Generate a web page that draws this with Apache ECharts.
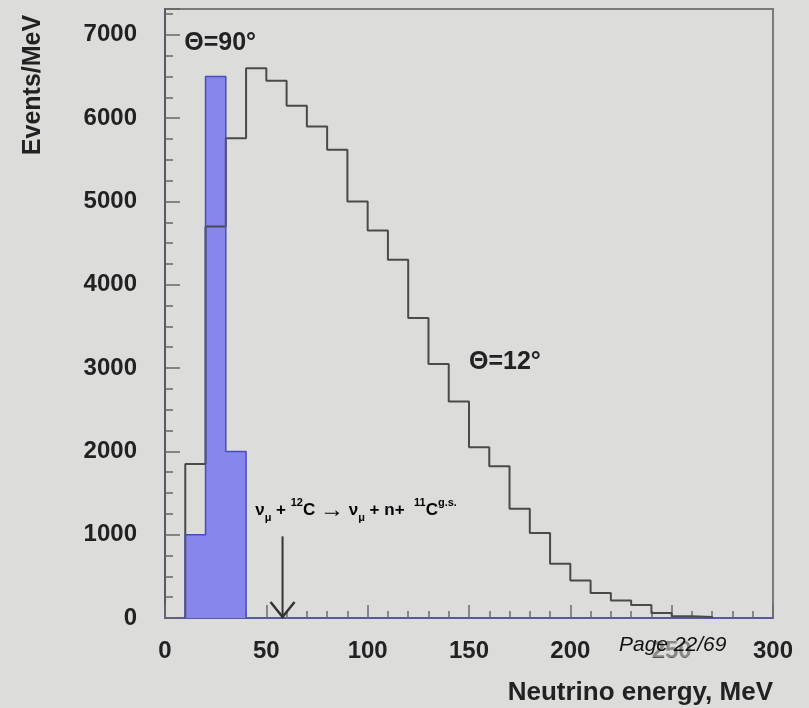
<!DOCTYPE html>
<html>
<head>
<meta charset="utf-8">
<script src="https://cdn.jsdelivr.net/npm/echarts@6/dist/echarts.min.js"></script>
<style>
  html, body { margin: 0; padding: 0; background: #dcdddb; }
  #chart { width: 809px; height: 708px; }
</style>
</head>
<body>
<div id="chart"></div>
<script>
// Neutrino energy spectra, 10 MeV bins (events per MeV)
const edges12 = [10, 20, 30, 40, 50, 60, 70, 80, 90, 100, 110, 120, 130, 140, 150,
                 160, 170, 180, 190, 200, 210, 220, 230, 240, 250, 260, 270];
const counts12 = [1850, 4700, 5760, 6600, 6450, 6150, 5900, 5620, 5000, 4650, 4300, 3600, 3050,
                  2600, 2050, 1820, 1310, 1020, 650, 450, 300, 210, 155, 60, 20, 12];
const edges90 = [10, 20, 30, 40];
const counts90 = [1000, 6500, 2000];

// Axis ranges and ticks
const xRange = [0, 300];
const xMajor = 50;
const yRange = [0, 7310];
const yMajor = 1000;
const yMinor = 250;

// Reaction threshold marker (energy in MeV, arrow top in events/MeV)
const markerEnergy = 58;
const markerTop = 980;

const FONT = 'Liberation Sans, Arial, Helvetica, sans-serif';

// Build a closed step outline: rises from zero at the first edge, drops to zero at the last
function stepPoints(edges, vals) {
  const pts = [[edges[0], 0]];
  vals.forEach((v, i) => pts.push([edges[i], v]));
  pts.push([edges[edges.length - 1], 0]);
  return pts;
}

const chart = echarts.init(document.getElementById('chart'), null, { renderer: 'canvas' });

const tickLabel = { fontSize: 24, fontWeight: 'bold', color: '#222', fontFamily: FONT };

chart.setOption({
  animation: false,
  backgroundColor: '#dcdddb',
  grid: {
    left: 165, right: 36, top: 9, bottom: 90,
    show: true, borderColor: '#7a7a7a', borderWidth: 2, backgroundColor: 'transparent'
  },
  xAxis: [{
    type: 'value', min: xRange[0], max: xRange[1], interval: xMajor,
    axisLine: { show: true, lineStyle: { color: '#5858a8', width: 2 } },
    axisTick: { show: true, inside: true, length: 13, lineStyle: { color: '#6a6a78', width: 1.5 } },
    minorTick: { show: true, splitNumber: 5, length: 7, lineStyle: { color: '#6a6a78', width: 1.5 } },
    axisLabel: Object.assign({ margin: 21 }, tickLabel),
    splitLine: { show: false }
  }],
  yAxis: [{
    type: 'value', min: yRange[0], max: yRange[1], interval: yMajor,
    axisLine: { show: true, lineStyle: { color: '#555868', width: 2 } },
    axisTick: { show: true, inside: true, length: 15, lineStyle: { color: '#666', width: 1.5 } },
    axisLabel: Object.assign({
      margin: 28,
      formatter: v => (v % yMajor === 0 ? String(v) : '')
    }, tickLabel),
    splitLine: { show: false }
  }, {
    type: 'value', min: yRange[0], max: yRange[1], interval: yMinor, position: 'left', offset: 0,
    axisLine: { show: false },
    axisTick: { show: true, inside: true, length: 8, lineStyle: { color: '#666', width: 1.5 } },
    axisLabel: { show: false },
    splitLine: { show: false }
  }],
  series: [{
    name: 'fill90', type: 'line', step: 'end', showSymbol: false, z: 1,
    data: stepPoints(edges90, counts90),
    lineStyle: { width: 0, opacity: 0 },
    areaStyle: { color: '#8686ec', opacity: 1 }
  }, {
    name: 'theta12', type: 'line', step: 'end', showSymbol: false, z: 2,
    data: stepPoints(edges12, counts12),
    lineStyle: { color: '#4a4a4a', width: 2 }
  }, {
    name: 'theta90', type: 'line', step: 'end', showSymbol: false, z: 3,
    data: stepPoints(edges90, counts90),
    lineStyle: { color: '#4a4ac0', width: 1.5 }
  }]
});

// Annotations anchored in data space
const px = p => chart.convertToPixel({ seriesIndex: 1 }, p);
const a90 = px([9.5, 6900]);
const a12 = px([150, 3075]);
const aReac = px([44.5, 1290]);
const arrTop = px([markerEnergy, markerTop]);
const arrTip = px([markerEnergy, 0]);

const reactionRich = {
  t:   { fontSize: 17, fontWeight: 'bold', color: '#222', fontFamily: FONT, lineHeight: 26, verticalAlign: 'middle' },
  ar:  { fontSize: 24, fontWeight: 'bold', color: '#222', fontFamily: FONT, lineHeight: 26, verticalAlign: 'middle' },
  sub: { fontSize: 11, fontWeight: 'bold', color: '#222', fontFamily: FONT, lineHeight: 26, verticalAlign: 'bottom' },
  sup: { fontSize: 11, fontWeight: 'bold', color: '#222', fontFamily: FONT, lineHeight: 26, verticalAlign: 'top' }
};

chart.setOption({
  graphic: [
    {
      type: 'text', x: a90[0], y: a90[1], z: 10,
      style: { text: 'Θ=90°', font: 'bold 25px ' + FONT, fill: '#222',
               textAlign: 'left', textVerticalAlign: 'middle' }
    },
    {
      type: 'text', x: a12[0], y: a12[1], z: 10,
      style: { text: 'Θ=12°', font: 'bold 25px ' + FONT, fill: '#222',
               textAlign: 'left', textVerticalAlign: 'middle' }
    },
    {
      type: 'text', x: aReac[0], y: aReac[1], z: 10,
      style: {
        text: '{t|ν}{sub|μ}{t| + }{sup|12}{t|C }{ar|→}{t| ν}{sub|μ}{t| + n+  }{sup|11}{t|C}{sup|g.s.}',
        rich: reactionRich,
        textAlign: 'left', textVerticalAlign: 'middle'
      }
    },
    {
      type: 'line', z: 10,
      shape: { x1: arrTop[0], y1: arrTop[1], x2: arrTip[0], y2: arrTip[1] - 1 },
      style: { stroke: '#333', lineWidth: 2 }
    },
    {
      type: 'polyline', z: 10,
      shape: { points: [[arrTip[0] - 12, arrTip[1] - 16], [arrTip[0], arrTip[1] - 1], [arrTip[0] + 12, arrTip[1] - 16]] },
      style: { stroke: '#333', lineWidth: 2.5, fill: null }
    },
    {
      type: 'text', x: 33, y: 85, rotation: Math.PI / 2, z: 10,
      style: { text: 'Events/MeV', font: 'bold 25px ' + FONT, fill: '#222',
               textAlign: 'center', textVerticalAlign: 'middle' }
    },
    {
      type: 'text', x: 773, y: 693, z: 10,
      style: { text: 'Neutrino energy, MeV', font: 'bold 26px ' + FONT, fill: '#222',
               textAlign: 'right', textVerticalAlign: 'middle' }
    },
    {
      type: 'text', x: 617, y: 645, z: 20,
      style: { text: 'Page 22/69', font: 'italic 21px ' + FONT, fill: '#111',
               textAlign: 'left', textVerticalAlign: 'middle',
               backgroundColor: 'rgba(220,221,219,0.55)', padding: [2, 2] }
    }
  ]
});
</script>
</body>
</html>
